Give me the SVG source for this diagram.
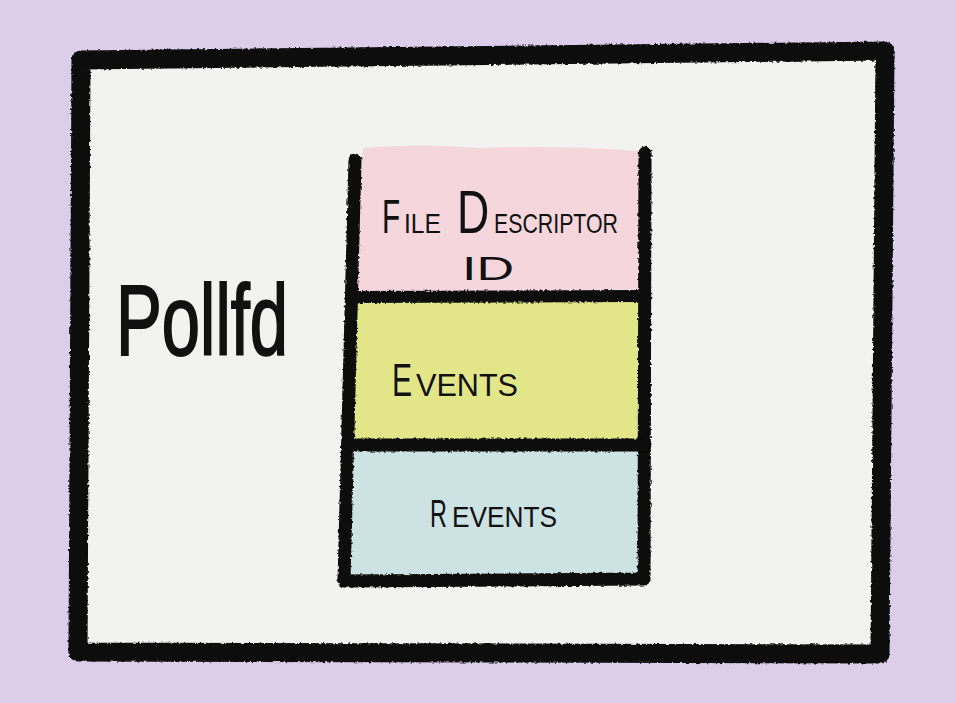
<svg xmlns="http://www.w3.org/2000/svg" width="956" height="703" viewBox="0 0 956 703">
  <style>
    .ink { fill: none; stroke: #0a0a0a; stroke-linecap: round; stroke-linejoin: round; filter: url(#rough); }
    .hand { font-family: "Liberation Sans", "DejaVu Sans", sans-serif; fill: #111; }
  </style>
  <defs>
    <filter id="rough" filterUnits="userSpaceOnUse" x="0" y="0" width="956" height="703">
      <feTurbulence type="fractalNoise" baseFrequency="0.35" numOctaves="2" seed="3" result="n"/>
      <feDisplacementMap in="SourceGraphic" in2="n" scale="3.5" xChannelSelector="R" yChannelSelector="G"/>
    </filter>
  </defs>
  <rect width="956" height="703" fill="#dccdea"/>

  <g id="frame">
    <path d="M81,60 L885,51 L880,654 L78,652 Z" fill="#f2f2f0"/>
    <path class="ink" stroke-width="19" d="M81,60 L885,51 L880,654 L78,652 Z"/>
  </g>

  <g id="title">
    <text class="hand" x="116" y="355" font-size="100" textLength="172" lengthAdjust="spacingAndGlyphs" stroke="#111" stroke-width="2">Pollfd</text>
  </g>

  <g id="field-fd">
    <path d="M363,148 Q420,143 480,148 Q560,145 638,151 L645,297 L352,297 Z" fill="#f5d6dc"/>
    <text class="hand" transform="translate(382,233) scale(0.62,1)" font-size="48">F</text>
    <text class="hand" x="404" y="233" font-size="28" textLength="37" lengthAdjust="spacingAndGlyphs">ILE</text>
    <text class="hand" transform="translate(457,233) scale(0.72,1)" font-size="62">D</text>
    <text class="hand" x="494" y="233" font-size="28" textLength="124" lengthAdjust="spacingAndGlyphs">ESCRIPTOR</text>
    <text class="hand" x="462" y="280" font-size="33" textLength="52" lengthAdjust="spacingAndGlyphs">ID</text>
  </g>

  <g id="field-events">
    <rect x="350" y="297" width="294" height="148" fill="#e2e689"/>
    <text class="hand" transform="translate(392,396) scale(0.64,1)" font-size="47">E</text>
    <text class="hand" x="416" y="396" font-size="31" textLength="102" lengthAdjust="spacingAndGlyphs">VENTS</text>
  </g>

  <g id="field-revents">
    <rect x="347" y="445" width="297" height="135" fill="#cde2e3"/>
    <text class="hand" transform="translate(430,527) scale(0.6,1)" font-size="39">R</text>
    <text class="hand" x="452" y="527" font-size="30" textLength="105" lengthAdjust="spacingAndGlyphs">EVENTS</text>
  </g>

  <g id="stack-lines">
    <path class="ink" stroke-width="13" d="M355,160 L344,581 L644,579 L645,153"/>
    <path class="ink" stroke-width="12" d="M351,297 L645,296"/>
    <path class="ink" stroke-width="13" d="M348,445 L645,445"/>
  </g>
</svg>
